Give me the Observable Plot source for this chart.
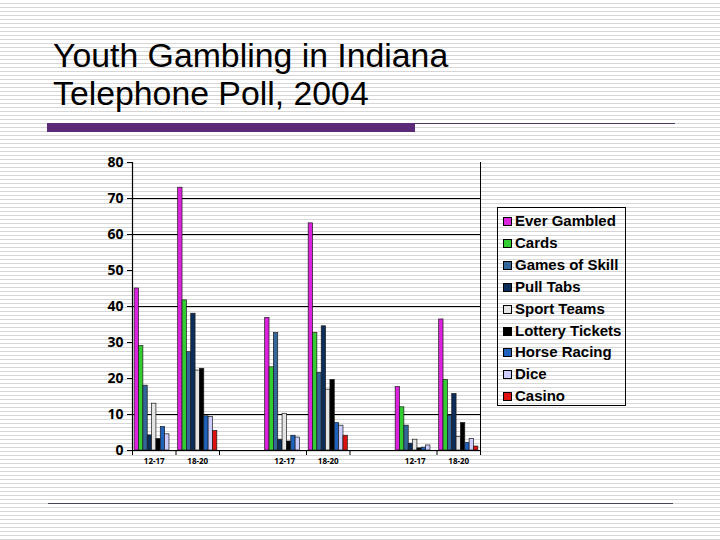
<!DOCTYPE html>
<html>
<head>
<meta charset="utf-8">
<script src="https://cdn.jsdelivr.net/npm/d3@7"></script>
<script src="https://cdn.jsdelivr.net/npm/@observablehq/plot@0.6"></script>
<style>
  html, body { margin: 0; padding: 0; }
  body { width: 720px; height: 540px; overflow: hidden; }
  #page {
    position: relative; width: 720px; height: 540px;
    background: repeating-linear-gradient(to bottom, #ffffff 0px, #ffffff 2.6px, #d6d6d6 2.6px, #d6d6d6 4px);
    font-family: "Liberation Sans", Arial, sans-serif;
  }
  #title {
    position: absolute; left: 53px; top: 36px;
    font-size: 33.8px; line-height: 38px; color: #000; white-space: nowrap;
  }
  #bar { position: absolute; left: 47px; top: 123px; width: 368px; height: 9px; background: #5b2b78; }
  #thin { position: absolute; left: 415px; top: 122.5px; width: 260px; height: 1.5px; background: #4a3a5c; }
  #bottom { position: absolute; left: 48px; top: 502.5px; width: 625px; height: 1.5px; background: #4a4459; }
  #chart { position: absolute; left: 0px; top: 140px; }
  #legend {
    position: absolute; left: 497px; top: 207px; width: 127px; height: 197px;
    border: 1px solid #000;
  }
  .item { position: absolute; left: 0px; height: 16px; font-weight: bold; font-size: 15px; line-height: 16px; white-space: nowrap; color: #000; }
  .sw { position: absolute; left: 5px; top: 4px; width: 7px; height: 7px; border: 1px solid #000; }
  .lbl { position: absolute; left: 17px; top: 0px; }
</style>
</head>
<body>
<div id="page">
  <div id="title">Youth Gambling in Indiana<br>Telephone Poll, 2004</div>
  <div id="bar"></div>
  <div id="thin"></div>
  <div id="chart"></div>
  <div id="legend"></div>
  <div id="bottom"></div>
</div>
<script>
// Series (legend order) and colours
const series = ["Ever Gambled", "Cards", "Games of Skill", "Pull Tabs", "Sport Teams",
                "Lottery Tickets", "Horse Racing", "Dice", "Casino"];
const colors = ["#dd22dd", "#33cc33", "#336699", "#0c2d5a", "#e4e4e4",
                "#000000", "#1f62bb", "#ccccff", "#dd1111"];

// Category slots along the x axis (blank slots separate the three sets)
const slots = ["12-17", "18-20", "", "12-17", "18-20", "", "12-17", "18-20"];
// Slot boundaries that carry a tick mark
const tickBoundaries = [0, 1, 2, 4, 5, 7, 8];

// Values (percent), one array per category, in series order
const set1_12_17 = [45, 29, 18, 4.2, 13, 3.2, 6.5, 4.5, 0];
const set1_18_20 = [73, 41.7, 27.3, 38, 22.2, 22.7, 9.5, 9.3, 5.4];
const set2_12_17 = [36.8, 23.1, 32.6, 3.0, 10.2, 2.5, 4.1, 3.6, 0];
const set2_18_20 = [63.1, 32.6, 21.5, 34.5, 16.9, 19.6, 7.6, 6.9, 4.1];
const set3_12_17 = [17.6, 12, 6.9, 1.9, 3.0, 0.6, 0.8, 1.4, 0];
const set3_18_20 = [36.4, 19.6, 9.7, 15.7, 3.7, 7.6, 2.1, 3.2, 1.1];

// Which slot each category occupies
const categories = [
  {slot: 0, values: set1_12_17},
  {slot: 1, values: set1_18_20},
  {slot: 3, values: set2_12_17},
  {slot: 4, values: set2_18_20},
  {slot: 6, values: set3_12_17},
  {slot: 7, values: set3_18_20}
];

// Y axis ticks and the gridlines visible in the reference
const yTicks = [0, 10, 20, 30, 40, 50, 60, 70, 80];
const gridLines = [10, 40, 60, 70];

const perSlot = series.length + 1; // bar units per slot (9 bars + half-unit padding each side)
const table = [];
for (const c of categories) {
  c.values.forEach((v, i) => {
    if (v > 0) table.push({slot: c.slot, i, series: series[i], value: v});
  });
}

const chart = Plot.plot({
  width: 500,
  height: 330,
  marginLeft: 132,
  marginRight: 20,
  marginTop: 22,
  marginBottom: 20,
  style: {background: "transparent", color: "#000", overflow: "visible"},
  x: {domain: [0, slots.length * perSlot], axis: null, label: null},
  y: {domain: [0, 80], axis: null, label: null},
  color: {domain: series, range: colors},
  marks: [
    Plot.ruleY(gridLines, {stroke: "#000", strokeWidth: 1}),
    Plot.rectY(table, {
      x1: d => d.slot * perSlot + 0.5 + d.i,
      x2: d => d.slot * perSlot + 1.5 + d.i,
      y1: 0,
      y2: "value",
      fill: "series",
      stroke: "#1a1a1a",
      strokeWidth: 0.7
    }),
    Plot.ruleY([0], {stroke: "#000", strokeWidth: 1.2}),
    Plot.ruleX([0], {stroke: "#000", strokeWidth: 1.2}),
    Plot.ruleX([slots.length * perSlot], {stroke: "#000", strokeWidth: 1}),
    Plot.axisY(yTicks, {
      anchor: "left", tickSize: 5, tickPadding: 4, label: null,
      fontSize: 14, fontWeight: "bold", stroke: "#000"
    }),
    Plot.axisX(tickBoundaries.map(b => b * perSlot), {
      anchor: "bottom", tickSize: 5, tickFormat: () => "", label: null, stroke: "#000"
    }),
    Plot.axisX(slots.map((s, k) => k).filter(k => slots[k] !== "").map(k => k * perSlot + perSlot / 2), {
      anchor: "bottom", tickSize: 0, tickPadding: 8, label: null,
      tickFormat: d => slots[Math.floor(d / perSlot)],
      fontSize: 8, fontWeight: "bold"
    })
  ]
});
document.getElementById("chart").appendChild(chart);

// Legend
const legend = document.getElementById("legend");
series.forEach((s, i) => {
  const item = document.createElement("div");
  item.className = "item";
  item.style.top = (5 + i * 21.9) + "px";
  const sw = document.createElement("div");
  sw.className = "sw";
  sw.style.background = colors[i];
  const lbl = document.createElement("div");
  lbl.className = "lbl";
  lbl.textContent = s;
  item.appendChild(sw);
  item.appendChild(lbl);
  legend.appendChild(item);
});
</script>
</body>
</html>
